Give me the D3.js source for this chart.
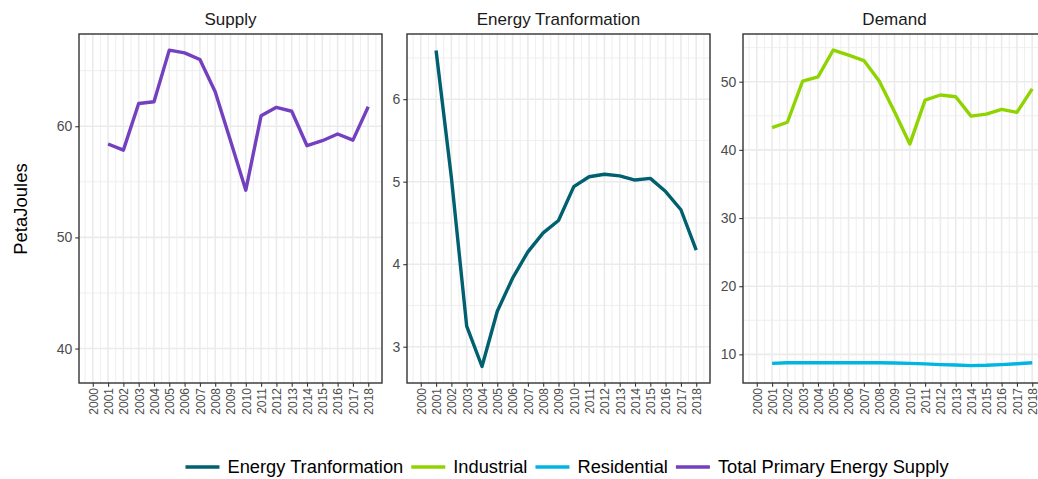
<!DOCTYPE html>
<html>
<head>
<meta charset="utf-8">
<script src="https://cdn.jsdelivr.net/npm/d3@7"></script>
<style>
  html, body { margin: 0; padding: 0; background: #fff; }
  svg { display: block; font-family: "Liberation Sans", Arial, Helvetica, sans-serif; }
</style>
</head>
<body>
<svg id="chart" width="1038" height="479"></svg>
<script>
// Energy balance series, PetaJoules
const years = [2001, 2002, 2003, 2004, 2005, 2006, 2007, 2008, 2009, 2010, 2011, 2012, 2013, 2014, 2015, 2016, 2017, 2018];
const tickYears = [2000, 2001, 2002, 2003, 2004, 2005, 2006, 2007, 2008, 2009, 2010, 2011, 2012, 2013, 2014, 2015, 2016, 2017, 2018];

const totalPrimarySupply = [58.4, 57.85, 62.05, 62.2, 66.85, 66.6, 66.0, 63.1, 58.7, 54.25, 60.95, 61.7, 61.35, 58.25, 58.7, 59.3, 58.75, 61.75];
const energyTransformation = [6.59, 5.05, 3.25, 2.76, 3.43, 3.83, 4.15, 4.38, 4.53, 4.94, 5.06, 5.09, 5.07, 5.02, 5.04, 4.88, 4.66, 4.17];
const industrial = [43.25, 44.05, 50.1, 50.7, 54.65, 53.9, 53.1, 50.1, 45.6, 40.85, 47.3, 48.05, 47.8, 44.95, 45.25, 45.95, 45.5, 48.95];
const residential = [8.68, 8.78, 8.78, 8.78, 8.78, 8.78, 8.77, 8.76, 8.73, 8.68, 8.6, 8.5, 8.44, 8.35, 8.4, 8.5, 8.62, 8.77];

const panelTitles = ["Supply", "Energy Tranformation", "Demand"];
const supplyTicks = [40, 50, 60];
const transformationTicks = [3, 4, 5, 6];
const demandTicks = [10, 20, 30, 40, 50];

const legendLabels = ["Energy Tranformation", "Industrial", "Residential", "Total Primary Energy Supply"];
const colors = {
  "Energy Tranformation": "#00606f",
  "Industrial": "#8fd400",
  "Residential": "#00b5e2",
  "Total Primary Energy Supply": "#7340c0"
};

const seriesByPanel = [
  [{ name: "Total Primary Energy Supply", values: totalPrimarySupply }],
  [{ name: "Energy Tranformation", values: energyTransformation }],
  [{ name: "Industrial", values: industrial }, { name: "Residential", values: residential }]
];

const panels = [
  { title: panelTitles[0], left: 79, yDomain: [36.9, 68.3], ticks: supplyTicks, step: 10, series: seriesByPanel[0] },
  { title: panelTitles[1], left: 407, yDomain: [2.56, 6.79], ticks: transformationTicks, step: 1, series: seriesByPanel[1] },
  { title: panelTitles[2], left: 743, yDomain: [5.8, 57.0], ticks: demandTicks, step: 10, series: seriesByPanel[2] }
];

const svg = d3.select("#chart");
const panelW = 303, panelTop = 34, panelBottom = 383;
const gridCol = "#ebebeb", axisCol = "#333333", tickTextCol = "#4d4d4d";

panels.forEach(p => {
  const x = d3.scaleLinear().domain([1999.1, 2018.9]).range([p.left, p.left + panelW]);
  const y = d3.scaleLinear().domain(p.yDomain).range([panelBottom, panelTop]);
  const g = svg.append("g");

  // minor grid
  const minorX = d3.range(1999.5, 2019, 1);
  const minorY = d3.range(p.ticks[0] - p.step / 2, p.yDomain[1], p.step).filter(v => v > p.yDomain[0]);
  g.selectAll(".mx").data(minorX).join("line")
    .attr("x1", d => x(d)).attr("x2", d => x(d)).attr("y1", panelTop).attr("y2", panelBottom)
    .attr("stroke", gridCol).attr("stroke-width", 0.8);
  g.selectAll(".my").data(minorY).join("line")
    .attr("x1", p.left).attr("x2", p.left + panelW).attr("y1", d => y(d)).attr("y2", d => y(d))
    .attr("stroke", gridCol).attr("stroke-width", 0.8);
  // major grid
  g.selectAll(".gx").data(tickYears).join("line")
    .attr("x1", d => x(d)).attr("x2", d => x(d)).attr("y1", panelTop).attr("y2", panelBottom)
    .attr("stroke", gridCol).attr("stroke-width", 1.6);
  g.selectAll(".gy").data(p.ticks).join("line")
    .attr("x1", p.left).attr("x2", p.left + panelW).attr("y1", d => y(d)).attr("y2", d => y(d))
    .attr("stroke", gridCol).attr("stroke-width", 1.6);

  // series lines
  const line = d3.line().x((d, i) => x(years[i])).y(d => y(d));
  p.series.forEach(s => {
    g.append("path").datum(s.values)
      .attr("d", line).attr("fill", "none")
      .attr("stroke", colors[s.name]).attr("stroke-width", 3.4)
      .attr("stroke-linejoin", "round").attr("stroke-linecap", "butt");
  });

  // panel border
  g.append("rect").attr("x", p.left).attr("y", panelTop).attr("width", panelW).attr("height", panelBottom - panelTop)
    .attr("fill", "none").attr("stroke", axisCol).attr("stroke-width", 1.4);

  // y axis
  const yAxis = g.append("g").attr("transform", `translate(${p.left},0)`)
    .call(d3.axisLeft(y).tickValues(p.ticks).tickSize(3.7).tickPadding(3).tickFormat(d3.format("d")));
  yAxis.select(".domain").remove();
  yAxis.selectAll(".tick line").attr("stroke", axisCol).attr("stroke-width", 1.1);
  yAxis.selectAll(".tick text").attr("fill", tickTextCol).style("font-size", "14px");

  // x axis
  const xAxis = g.append("g").attr("transform", `translate(0,${panelBottom})`)
    .call(d3.axisBottom(x).tickValues(tickYears).tickSize(3.7).tickFormat(d3.format("d")));
  xAxis.select(".domain").remove();
  xAxis.selectAll(".tick line").attr("stroke", axisCol).attr("stroke-width", 1.1);
  xAxis.selectAll(".tick text")
    .attr("fill", tickTextCol).style("font-size", "12px")
    .attr("transform", "rotate(-90)")
    .attr("text-anchor", "end").attr("x", -5).attr("y", 0).attr("dy", "0.36em");

  // strip title
  g.append("text").attr("x", p.left + panelW / 2).attr("y", 25)
    .attr("text-anchor", "middle").style("font-size", "17px").attr("fill", "#1a1a1a")
    .text(p.title);
});

// y axis title
svg.append("text")
  .attr("transform", "translate(27,209) rotate(-90)")
  .attr("text-anchor", "middle").style("font-size", "18.5px").attr("fill", "#000")
  .text("PetaJoules");

// legend
const legend = svg.append("g");
const keyW = 34, gap = 8, itemGap = 8, legendY = 467;
let cx = 0;
legendLabels.forEach(name => {
  const item = legend.append("g");
  item.append("line").attr("x1", 0).attr("x2", keyW).attr("y1", 0).attr("y2", 0)
    .attr("stroke", colors[name]).attr("stroke-width", 3.6);
  const t = item.append("text").attr("x", keyW + gap).attr("y", 0).attr("dy", "0.35em")
    .style("font-size", "18.3px").attr("fill", "#000").text(name);
  const w = keyW + gap + t.node().getComputedTextLength();
  item.attr("transform", `translate(${cx},${legendY})`);
  cx += w + itemGap;
});
const totalW = cx - itemGap;
legend.attr("transform", `translate(${(181 + 953) / 2 - totalW / 2},0)`);
</script>
</body>
</html>
